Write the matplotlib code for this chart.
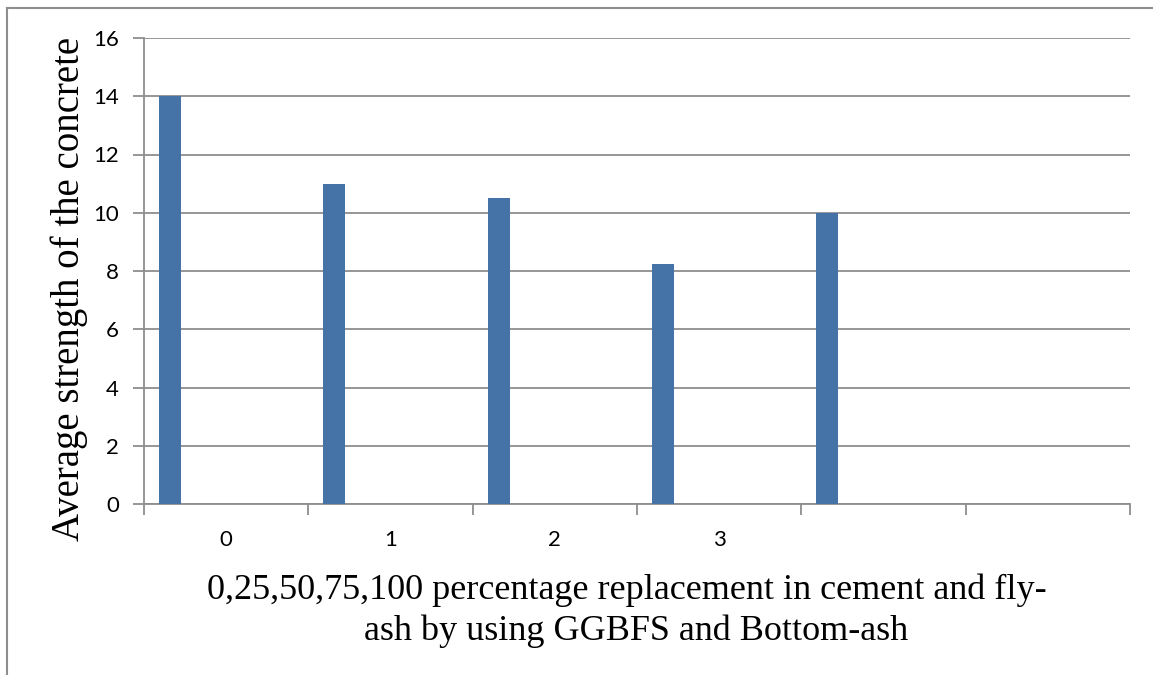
import matplotlib
matplotlib.use("Agg")
import matplotlib.pyplot as plt
import numpy as np

categories = ["0", "1", "2", "3", "", ""]
values = [14, 11, 10.5, 8.25, 10]
y_ticks = [0, 2, 4, 6, 8, 10, 12, 14, 16]
y_label = "Average strength of the concrete"
x_label_lines = ["0,25,50,75,100 percentage replacement in cement and fly-",
                 "ash by using GGBFS and Bottom-ash"]

BAR_COLOR = "#4572A7"
GRID_COLOR = "#8E8E8E"
bar_offset = 0.158   # fraction of category slot from its left edge to bar centre
bar_width = 0.134

W, H = 1153, 675
fig = plt.figure(figsize=(W/100, H/100), dpi=100)
ax = fig.add_axes([144/W, 1 - 504/H, (1130-144)/W, (504-38)/H])

x = np.arange(len(values))
ax.bar(x - 0.5 + bar_offset, values, width=bar_width, color=BAR_COLOR, zorder=3)

ax.set_xlim(-0.5, len(categories) - 0.5)
ax.set_ylim(0, 16)
ax.set_yticks(y_ticks)
ax.set_yticklabels([str(v) for v in y_ticks], fontfamily="Lato", fontsize=16)
ax.yaxis.grid(True, color=GRID_COLOR, linewidth=1.3, zorder=0)
ax.set_axisbelow(True)

# category labels centred in slots, ticks at slot boundaries
ax.set_xticks(np.arange(len(categories) + 1) - 0.5)
ax.set_xticklabels([""] * (len(categories) + 1))
ax.set_xticks(np.arange(len(categories)), minor=True)
ax.set_xticklabels(categories, minor=True, fontfamily="Lato", fontsize=16)
ax.tick_params(axis="x", which="major", length=8, width=1.3, color=GRID_COLOR)
ax.tick_params(axis="x", which="minor", length=0, pad=19)
ax.tick_params(axis="y", length=8, width=1.3, color=GRID_COLOR, pad=10)

for s in ["top", "right"]:
    ax.spines[s].set_visible(False)
for s in ["left", "bottom"]:
    ax.spines[s].set_color(GRID_COLOR)
    ax.spines[s].set_linewidth(1.3)

fig.text(69/W, 1 - 289/H, y_label, rotation=90, ha="center", va="center",
         fontfamily="Liberation Serif", fontsize=28)
fig.text(626.5/W, 1 - 599/H, x_label_lines[0], ha="center", va="baseline",
         fontfamily="Liberation Serif", fontsize=26)
fig.text(636/W, 1 - 640/H, x_label_lines[1], ha="center", va="baseline",
         fontfamily="Liberation Serif", fontsize=26)

# outer chart border (left and top)
fig.add_artist(plt.Line2D([7/W, 7/W], [0, 1 - 8/H], transform=fig.transFigure, color=GRID_COLOR, lw=1.5))
fig.add_artist(plt.Line2D([7/W, 1], [1 - 8/H, 1 - 8/H], transform=fig.transFigure, color=GRID_COLOR, lw=1.5))

fig.savefig("out.png", dpi=100)
